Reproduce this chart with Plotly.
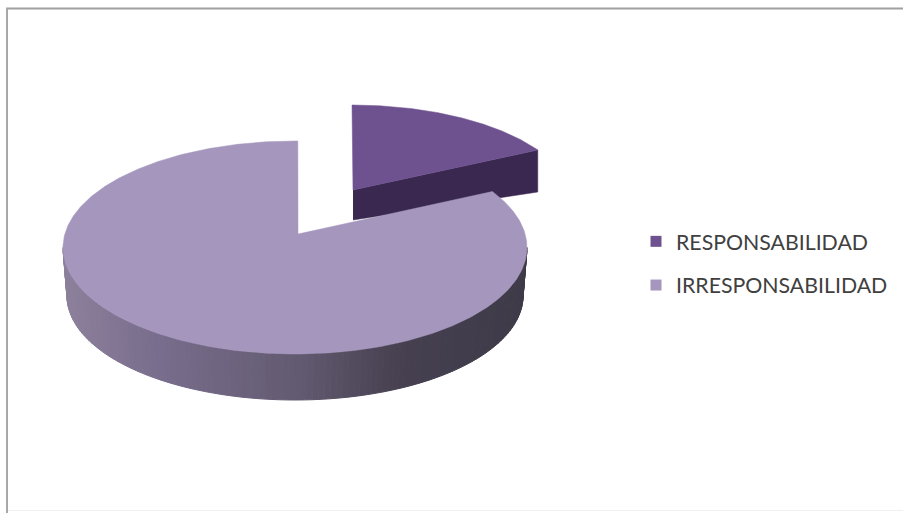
import math
import plotly.graph_objects as go

categories = ["RESPONSABILIDAD", "IRRESPONSABILIDAD"]
values = [16, 84]
colors = ["#6e5290", "#a596bd"]

SLICE_SIDE = "#3a2850"
SIDE_STOPS = [(63, (140, 128, 155)), (150, (122, 110, 142)), (300, (98, 90, 112)),
              (400, (70, 64, 80)), (527, (62, 58, 72))]

total = sum(values)
sweep = values[0] / total * 360
ROT = 0.7


def pt(theta, cx, cy, rx, ry):
    t = math.radians(theta)
    return cx + rx * math.sin(t), cy - ry * math.cos(t)


def arc(a, b, cx, cy, rx, ry, n=240):
    pts = [pt(a + (b - a) * i / n, cx, cy, rx, ry) for i in range(n + 1)]
    return [p[0] for p in pts], [p[1] for p in pts]


def side_color(x):
    for (x0, c0), (x1, c1) in zip(SIDE_STOPS, SIDE_STOPS[1:]):
        if x <= x1:
            f = max(0, (x - x0) / (x1 - x0))
            return "rgb(%d,%d,%d)" % tuple(round(u + (v - u) * f) for u, v in zip(c0, c1))
    return "rgb(%d,%d,%d)" % SIDE_STOPS[-1][1]


fig = go.Figure()


def poly(xs, ys, color, name=None, lw=0.5):
    fig.add_trace(go.Scatter(x=xs, y=ys, mode="lines", fill="toself", fillcolor=color,
                             line=dict(color=color, width=lw), showlegend=False,
                             hoverinfo="skip" if name is None else "name", name=name))


# exploded slice (far ellipse)
S = (352, 202, 220, 97)
apex_s = (353, 190)
end_s = pt(sweep, *S)
poly([apex_s[0], end_s[0], end_s[0], apex_s[0]],
     [apex_s[1], end_s[1], end_s[1] + 42, apex_s[1] + 30], SLICE_SIDE)
ax, ay = arc(0, sweep, *S)
poly([apex_s[0]] + ax + [apex_s[0]], [apex_s[1]] + ay + [apex_s[1]], colors[0], categories[0])

# main slice: curved side
T = (295, 247.5, 232, 106.5)
B = (295, 296, 228, 104)
N = 120
for i in range(N):
    a = 90 + 180 * i / N
    b = 90 + 180 * (i + 1) / N
    t1, t2 = pt(a, *T), pt(b, *T)
    b1, b2 = pt(a, *B), pt(b, *B)
    col = side_color((t1[0] + t2[0]) / 2)
    poly([t1[0], t2[0], b2[0], b1[0], t1[0]], [t1[1], t2[1], b2[1], b1[1], t1[1]], col, lw=1)

# main slice: top
apex_m = (298, 234)
mx, my = arc(sweep + ROT, 360 + ROT, *T, n=500)
poly([apex_m[0]] + mx + [apex_m[0]], [apex_m[1]] + my + [apex_m[1]], colors[1], categories[1])

# legend
for i, (c, col) in enumerate(zip(categories, colors)):
    fig.add_trace(go.Scatter(x=[None], y=[None], mode="markers", name=c, legendgroup=c,
                             marker=dict(symbol="square", size=11, color=col)))

fig.update_layout(
    width=903, height=513, margin=dict(l=0, r=0, t=0, b=0),
    paper_bgcolor="white", plot_bgcolor="white",
    xaxis=dict(range=[0, 903], visible=False, fixedrange=True),
    yaxis=dict(range=[513, 0], visible=False, fixedrange=True),
    legend=dict(x=636 / 903, y=1 - 221 / 513, xanchor="left", yanchor="top",
                font=dict(family="Lato", size=21.3, color="#404040"),
                tracegroupgap=13, bgcolor="rgba(0,0,0,0)", itemwidth=30),
    shapes=[
        dict(type="line", x0=6, x1=903, y0=8.5, y1=8.5, xref="x", yref="y",
             line=dict(color="#a0a0a0", width=2)),
        dict(type="line", x0=7, x1=7, y0=8, y1=513, xref="x", yref="y",
             line=dict(color="#a8a8a8", width=2)),
        dict(type="line", x0=8, x1=903, y0=510.5, y1=510.5, xref="x", yref="y",
             line=dict(color="#f0f0f0", width=1)),
    ],
)
fig.write_html("out.html", config={"displayModeBar": False},
               post_script="document.body.style.margin='0';document.body.style.overflow='hidden';")
